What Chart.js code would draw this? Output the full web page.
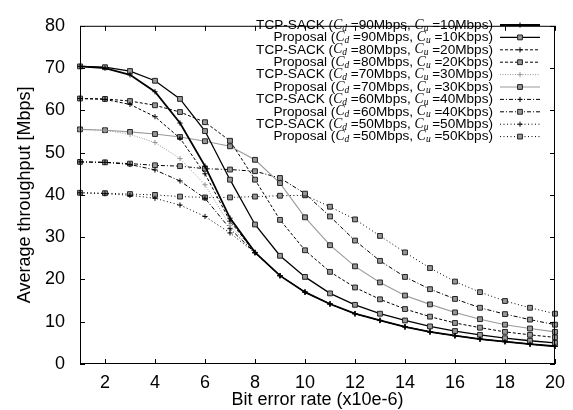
<!DOCTYPE html>
<html>
<head>
<meta charset="utf-8">
<script src="https://cdn.jsdelivr.net/npm/chart.js@4/dist/chart.umd.min.js"></script>
<style>
  body { margin: 0; background: #fff; }
  canvas { display: block; }
</style>
</head>
<body>
<canvas id="berChart" width="573" height="410"></canvas>
<script>
// Bit error rate (x10e-6)
const ber = [1, 2, 3, 4, 5, 6, 7, 8, 9, 10, 11, 12, 13, 14, 15, 16, 17, 18, 19, 20];
const xTicks = [2, 4, 6, 8, 10, 12, 14, 16, 18, 20];
const yTicks = [0, 10, 20, 30, 40, 50, 60, 70, 80];

// Average throughput [Mbps]
const tcp90  = [70.4, 70.0, 68.4, 64.4, 57.0, 46.8, 34.5, 26.4, 20.9, 17.0, 14.2, 11.9, 10.3, 8.8, 7.6, 6.7, 5.9, 5.3, 4.7, 4.2];
const prop90 = [70.4, 70.2, 69.3, 67.0, 62.7, 55.1, 43.6, 33.0, 25.6, 20.6, 16.7, 14.0, 11.9, 10.3, 8.9, 7.8, 6.9, 6.1, 5.5, 5.0];
const tcp80  = [62.8, 62.6, 61.4, 58.5, 53.4, 45.0, 33.8, 26.4, 20.9, 17.0, 14.2, 11.9, 10.3, 8.8, 7.6, 6.7, 5.9, 5.3, 4.7, 4.2];
const prop80 = [62.8, 62.7, 62.2, 61.2, 59.6, 57.2, 52.8, 43.6, 34.1, 26.9, 21.8, 18.1, 15.3, 13.0, 11.2, 9.7, 8.6, 7.6, 6.9, 6.3];
const tcp70  = [55.5, 55.3, 54.3, 52.4, 48.6, 42.4, 32.8, 26.4, 20.9, 17.0, 14.2, 11.9, 10.3, 8.8, 7.6, 6.7, 5.9, 5.3, 4.7, 4.2];
const prop70 = [55.5, 55.3, 54.9, 54.4, 53.7, 52.7, 51.5, 48.3, 42.8, 34.7, 28.1, 23.1, 19.3, 16.2, 14.1, 12.2, 10.6, 9.3, 8.4, 7.6];
const tcp60  = [47.8, 47.7, 47.2, 45.9, 43.3, 39.2, 32.0, 26.3, 20.9, 17.0, 14.2, 11.9, 10.3, 8.8, 7.6, 6.7, 5.9, 5.3, 4.7, 4.2];
const prop60 = [47.8, 47.7, 47.4, 47.0, 46.8, 46.2, 46.0, 45.6, 44.0, 40.3, 34.9, 29.2, 24.4, 20.6, 17.7, 15.4, 13.3, 11.8, 10.5, 9.3];
const tcp50  = [40.5, 40.3, 39.9, 39.2, 37.6, 34.9, 31.0, 26.3, 20.9, 17.0, 14.2, 11.9, 10.3, 8.8, 7.6, 6.7, 5.9, 5.3, 4.7, 4.2];
const prop50 = [40.5, 40.4, 40.2, 40.0, 39.6, 39.4, 39.4, 39.6, 39.8, 39.9, 37.2, 34.2, 30.3, 26.4, 22.7, 19.5, 17.0, 14.9, 13.3, 11.9];

// legend parts
const schemes = ['TCP-SACK', 'Proposal', 'TCP-SACK', 'Proposal', 'TCP-SACK', 'Proposal', 'TCP-SACK', 'Proposal', 'TCP-SACK', 'Proposal'];
const downCaps = ['90Mbps', '90Mbps', '80Mbps', '80Mbps', '70Mbps', '70Mbps', '60Mbps', '60Mbps', '50Mbps', '50Mbps'];
const upCaps = ['10Mbps', '10Kbps', '20Mbps', '20Kbps', '30Mbps', '30Kbps', '40Mbps', '40Kbps', '50Mbps', '50Kbps'];

const FONT = '"Liberation Sans", Arial, Helvetica, sans-serif';
const SERIF = '"Liberation Serif", "Times New Roman", serif';

function series(values, color, width, dash, marker) {
    const isSquare = marker === 'rect';
    return {
        data: ber.map((b, i) => ({ x: b, y: values[i] })),
        borderColor: color,
        borderWidth: width,
        borderDash: dash,
        pointStyle: marker,
        pointRadius: isSquare ? 3.4 : 2.6,
        pointBorderWidth: 1,
        pointBorderColor: isSquare ? '#222' : color,
        pointBackgroundColor: isSquare ? '#999' : color,
        tension: 0,
        clip: false
    };
}

const datasets = [
    series(tcp90,  '#000', 1.8, [],           'cross'),
    series(prop90, '#000', 1.3, [],           'rect'),
    series(tcp80,  '#000', 1,   [3, 2],       'cross'),
    series(prop80, '#000', 1,   [3, 2],       'rect'),
    series(tcp70,  '#999', 1,   [1, 1.5],     'cross'),
    series(prop70, '#999', 1.1, [],           'rect'),
    series(tcp60,  '#000', 1,   [4, 2, 1, 2], 'cross'),
    series(prop60, '#000', 1,   [4, 2, 1, 2], 'rect'),
    series(tcp50,  '#000', 1,   [1, 2.5],     'cross'),
    series(prop50, '#000', 1,   [1, 2.5],     'rect')
];

// box round the plot with inward ticks on all four sides
const framePlugin = {
    id: 'frame',
    afterDatasetsDraw(chart) {
        const { ctx, chartArea: a, scales: { x, y } } = chart;
        ctx.save();
        ctx.strokeStyle = '#000';
        ctx.lineWidth = 1;
        ctx.setLineDash([]);
        ctx.strokeRect(a.left + 0.5, a.top + 0.5, a.right - a.left - 1, a.bottom - a.top - 1);
        ctx.beginPath();
        xTicks.forEach(v => {
            const px = Math.round(x.getPixelForValue(v)) + 0.5;
            ctx.moveTo(px, a.bottom); ctx.lineTo(px, a.bottom - 5);
            ctx.moveTo(px, a.top); ctx.lineTo(px, a.top + 5);
        });
        yTicks.forEach(v => {
            const py = Math.round(y.getPixelForValue(v)) + 0.5;
            ctx.moveTo(a.left, py); ctx.lineTo(a.left + 5, py);
            ctx.moveTo(a.right, py); ctx.lineTo(a.right - 5, py);
        });
        ctx.stroke();
        ctx.restore();
    }
};

// gnuplot-like key: right-aligned text with italic C_d / C_u, sample line on the right
const keyPlugin = {
    id: 'key',
    afterDraw(chart) {
        const ctx = chart.ctx;
        const textRight = 493, lineLeft = 500, lineRight = 540;
        const top = 25, rowH = 12.4;
        const normal = '13.6px ' + FONT;
        const ital = 'italic 13.6px ' + SERIF;
        const sub = 'italic 9.5px ' + SERIF;
        ctx.save();
        ctx.fillStyle = '#000';
        ctx.textBaseline = 'middle';
        ctx.textAlign = 'left';
        datasets.forEach((ds, i) => {
            const yy = top + i * rowH;
            const parts = [
                [schemes[i] + ' (', normal, 0],
                ['C', ital, 0],
                ['d', sub, 3],
                [' =' + downCaps[i] + ', ', normal, 0],
                ['C', ital, 0],
                ['u', sub, 3],
                [' =' + upCaps[i] + ')', normal, 0]
            ];
            let total = 0;
            parts.forEach(p => { ctx.font = p[1]; total += ctx.measureText(p[0]).width; });
            let xx = textRight - total;
            parts.forEach(p => {
                ctx.font = p[1];
                ctx.fillText(p[0], xx, yy + p[2]);
                xx += ctx.measureText(p[0]).width;
            });
            ctx.strokeStyle = ds.borderColor;
            ctx.lineWidth = ds.borderWidth;
            ctx.setLineDash(ds.borderDash);
            ctx.beginPath();
            ctx.moveTo(lineLeft, yy);
            ctx.lineTo(lineRight, yy);
            ctx.stroke();
            ctx.setLineDash([]);
            ctx.fillStyle = ds.pointBackgroundColor;
            ctx.strokeStyle = ds.pointBorderColor;
            ctx.lineWidth = 1;
            Chart.helpers.drawPoint(ctx, {
                pointStyle: ds.pointStyle,
                radius: ds.pointRadius,
                borderWidth: 1,
                rotation: 0
            }, (lineLeft + lineRight) / 2, yy);
            ctx.fillStyle = '#000';
        });
        ctx.restore();
    }
};

new Chart(document.getElementById('berChart'), {
    type: 'line',
    data: { datasets: datasets },
    plugins: [framePlugin, keyPlugin],
    options: {
        responsive: false,
        animation: false,
        layout: { padding: { top: 15, right: 18, left: 0, bottom: 0 } },
        plugins: {
            legend: { display: false },
            tooltip: { enabled: false }
        },
        scales: {
            x: {
                type: 'linear',
                min: 1,
                max: 20,
                afterBuildTicks: scale => { scale.ticks = xTicks.map(v => ({ value: v })); },
                afterFit: scale => { scale.height = 46; },
                grid: { display: false, drawTicks: false },
                border: { display: false },
                ticks: {
                    color: '#000',
                    padding: 8,
                    maxRotation: 0,
                    font: { family: FONT, size: 18 }
                },
                title: {
                    display: true,
                    text: 'Bit error rate (x10e-6)',
                    color: '#000',
                    padding: { top: 0, bottom: 0 },
                    font: { family: FONT, size: 18, lineHeight: 1.1 }
                }
            },
            y: {
                min: 0,
                max: 80,
                afterBuildTicks: scale => { scale.ticks = yTicks.map(v => ({ value: v })); },
                afterFit: scale => { scale.width = 80; },
                grid: { display: false, drawTicks: false },
                border: { display: false },
                ticks: {
                    color: '#000',
                    padding: 15,
                    font: { family: FONT, size: 18 }
                },
                title: {
                    display: true,
                    text: 'Average throughput [Mbps]',
                    color: '#000',
                    padding: { top: 14, bottom: 0 },
                    font: { family: FONT, size: 18, lineHeight: 1.2 }
                }
            }
        }
    }
});
</script>
</body>
</html>
